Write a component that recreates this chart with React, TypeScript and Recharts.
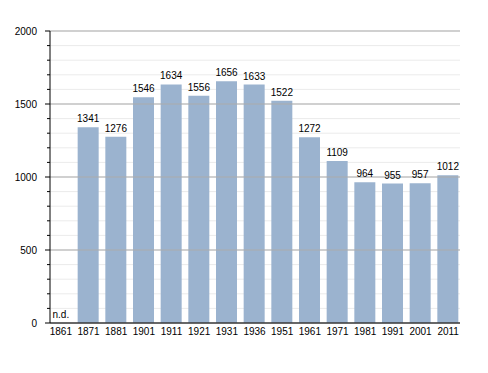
import {
  BarChart,
  Bar,
  XAxis,
  YAxis,
  CartesianGrid,
  ReferenceLine,
  LabelList,
} from 'recharts'

const years = ['1861', '1871', '1881', '1901', '1911', '1921', '1931', '1936', '1951', '1961', '1971', '1981', '1991', '2001', '2011']
// null = no data ("n.d.")
const population: (number | null)[] = [null, 1341, 1276, 1546, 1634, 1556, 1656, 1633, 1522, 1272, 1109, 964, 955, 957, 1012]
const majorTicks = [0, 500, 1000, 1500, 2000]
const yTicks = [0, 100, 200, 300, 400, 500, 600, 700, 800, 900, 1000, 1100, 1200, 1300, 1400, 1500, 1600, 1700, 1800, 1900, 2000]

const data = years.map((year, i) => ({
  year,
  value: population[i],
}))

const FONT = '"Liberation Sans", Arial, sans-serif'

function YTick(props: any) {
  const { x, y, payload } = props
  const major = majorTicks.includes(payload.value)
  return (
    <g>
      <line x1={x - (major ? 5 : 3)} x2={x} y1={y} y2={y} stroke="#000" strokeWidth={1} />
      {major && (
        <text x={x - 13} y={y} dy="0.35em" textAnchor="end" fontSize={10} fill="#000" fontFamily={FONT}>
          {payload.value}
        </text>
      )}
    </g>
  )
}

// year label, plus "n.d." sitting on the baseline where a bar has no data
function XTick(props: any) {
  const { x, y, payload, index } = props
  const missing = population[index] == null
  return (
    <g>
      <text x={x} y={y} dy="0.71em" textAnchor="middle" fontSize={10} fill="#000" fontFamily={FONT}>
        {payload.value}
      </text>
      {missing && (
        <text x={x} y={y - 10} textAnchor="middle" fontSize={10} fill="#000" fontFamily={FONT}>
          n.d.
        </text>
      )}
    </g>
  )
}

export default function App() {
  return (
    <div style={{ position: 'absolute', left: 0, top: 0, width: 488, height: 373, background: '#fff' }}>
      <BarChart
        width={488}
        height={373}
        data={data}
        margin={{ top: 31, right: 28, bottom: 30, left: 0 }}
      >
        <CartesianGrid vertical={false} stroke="#ebebeb" strokeWidth={1} />
        {majorTicks.map((t) => (
          <ReferenceLine key={t} y={t} stroke="#ababab" strokeWidth={1} />
        ))}
        <XAxis
          dataKey="year"
          interval={0}
          padding={{ left: -3, right: -2 }}
          tickLine={false}
          tickSize={3}
          tickMargin={2}
          axisLine={{ stroke: '#000' }}
          tick={<XTick />}
          height={20}
        />
        <YAxis
          domain={[0, 2000]}
          ticks={yTicks}
          interval={0}
          width={50}
          tickLine={false}
          tickSize={0}
          tickMargin={0}
          axisLine={{ stroke: '#000' }}
          tick={<YTick />}
        />
        <Bar dataKey="value" fill="#9bb3cf" barSize={21} isAnimationActive={false}>
          <LabelList
            dataKey="value"
            position="top"
            offset={5}
            fontSize={10}
            fill="#000"
            fontFamily={FONT}
          />
        </Bar>
      </BarChart>
    </div>
  )
}
